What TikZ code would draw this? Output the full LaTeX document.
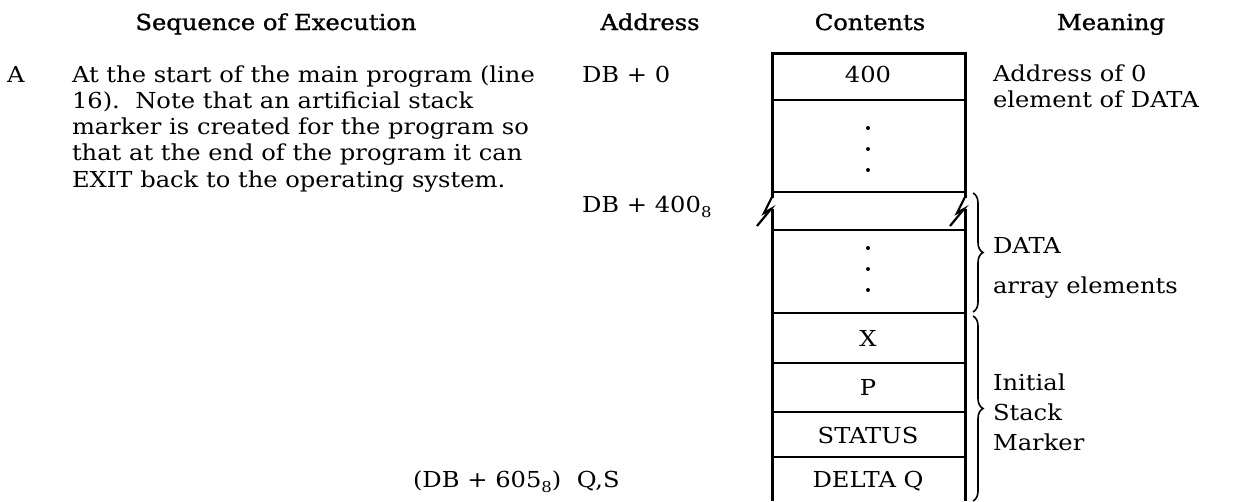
\documentclass[tikz,border=0pt]{standalone}
\usepackage{fontspec}
\setmainfont{DejaVu Serif}[FakeStretch=1.1]
\newfontfamily\hdrfont{DejaVu Serif}[FakeStretch=1.1,FakeBold=1.2]
\usetikzlibrary{decorations.pathreplacing}
\newcommand\sbs[1]{\raisebox{-0.45ex}{\fontsize{15}{16}\selectfont #1}}
\begin{document}
\begin{tikzpicture}[x=1pt,y=-1pt,
  every node/.style={inner sep=0pt,outer sep=0pt},
  big/.style={font=\fontsize{22}{26}\selectfont},
  lt/.style={big,anchor=base west},
  ct/.style={big,anchor=base},
  hd/.style={font=\fontsize{22}{26}\hdrfont,anchor=base},
  hline/.style={line width=2.4pt},
  vline/.style={line width=3pt},
  brk/.style={line width=2.2pt,line join=miter},
  brc/.style={decorate,decoration={brace,amplitude=10pt},line width=1.6pt},
  dotm/.style={fill,circle,minimum size=4pt}]
\useasboundingbox (0,0) rectangle (1235,501);
% headers
\node[hd] (hseq) at (276,30) {Sequence of Execution};
\node[hd] (hadr) at (650,30) {Address};
\node[hd] (hcon) at (870,30) {Contents};
\node[hd] (hmea) at (1111,30) {Meaning};
% step A
\node[lt] (lA) at (7,82) {A};
\node[lt] (p1) at (72,82) {At the start of the main program (line};
\node[lt] (p2) at (72,108.3) {16).\ \ Note that an artificial stack};
\node[lt] (p3) at (72,134.6) {marker is created for the program so};
\node[lt] (p4) at (72,160.9) {that at the end of the program it can};
\node[lt] (p5) at (72,187.2) {EXIT back to the operating system.};
% addresses
\node[lt] (a0) at (582,82) {DB + 0};
\node[lt] (a400) at (582,212) {DB + 400\sbs{8}};
\node[lt] (a605) at (413,487) {(DB + 605\sbs{8})\ \ Q,S};
% box frame
\coordinate (tl) at (772,53);
\coordinate (tr) at (965,53);
\draw[vline] (772,198) -- (tl) -- (tr) -- (965,198);
\draw[vline] (772,209) -- (772,501);
\draw[vline] (965,209) -- (965,501);
\draw[brk] (772,197) -- (764,213) -- (771,209) -- (757,226);
\draw[brk] (965,197) -- (957,213) -- (964,209) -- (950,226);
\foreach \yy in {100,192,230,313,363,412,457}
  \draw[hline] (772,\yy) -- (965,\yy);
% contents
\node[ct] (c400) at (868,82) {400};
\node[dotm] (d1) at (868,128) {};
\node[dotm] (d2) at (868,149) {};
\node[dotm] (d3) at (868,170) {};
\node[dotm] (d4) at (868,248) {};
\node[dotm] (d5) at (868,269) {};
\node[dotm] (d6) at (868,290) {};
\node[ct] (cX) at (868,346) {X};
\node[ct] (cP) at (868,395) {P};
\node[ct] (cS) at (868,443) {STATUS};
\node[ct] (cD) at (868,487) {DELTA Q};
% meaning
\node[lt] (m1) at (993,81) {Address of 0};
\node[lt] (m2) at (993,107) {element of DATA};
\node[lt] (mdata) at (993,253) {DATA};
\node[lt] (marr) at (993,293) {array elements};
\node[lt] (mi) at (993,390) {Initial};
\node[lt] (ms) at (993,420) {Stack};
\node[lt] (mm) at (993,450) {Marker};
\coordinate (b1t) at (973,193);
\coordinate (b1b) at (973,312);
\coordinate (b2t) at (973,316);
\coordinate (b2b) at (973,501);
\draw[brc] (b1t) -- (b1b);
\draw[brc] (b2t) -- (b2b);
\end{tikzpicture}
\end{document}
